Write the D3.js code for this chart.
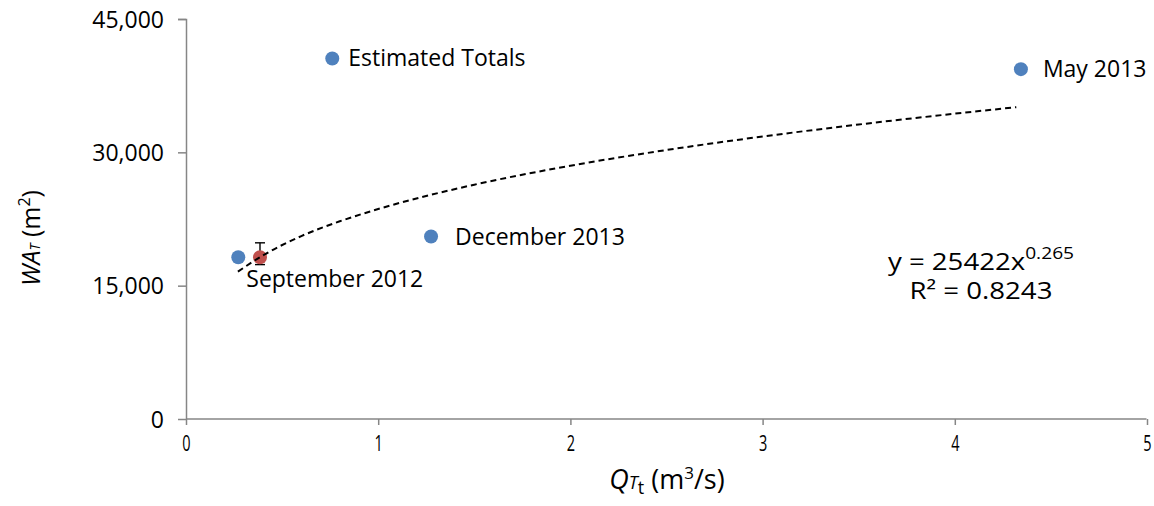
<!DOCTYPE html>
<html>
<head>
<meta charset="utf-8">
<script src="https://cdn.jsdelivr.net/npm/d3@7"></script>
<style>
  body { margin: 0; background: #fff; }
  svg text { font-family: "Open Sans", "Noto Sans", sans-serif; fill: #000; }
</style>
</head>
<body>
<script>
// sampled events (blue series)
var eventNames = ["Estimated Totals", "May 2013", "December 2013", "September 2012"];
var eventQ = [0.761, 4.344, 1.275, 0.272];        // m3/s
var eventWA = [40560, 39360, 20530, 18190];        // m2

// reference point with error bar (red series)
var refQ = [0.385];
var refWA = [18190];
var refLow = [17370];
var refHigh = [19820];

// power trendline
var trendQ = [0.27, 0.4, 0.6, 0.8, 1.0, 1.5, 2.0, 2.5, 3.0, 3.5, 4.0, 4.32];
var trendWA = [16580, 18400, 20580, 22240, 23620, 26360, 28490, 30260, 31780, 33130, 34350, 35080];

var xTicks = [0, 1, 2, 3, 4, 5];
var yTicks = [0, 15000, 30000, 45000];

var eqCoef = "25422";
var eqExp = "0.265";
var eqR2 = "0.8243";

// label placement (layout only)
var labelPlace = {
    "Estimated Totals": {dx: 16, dy: 8},
    "May 2013": {dx: 22, dy: 8},
    "December 2013": {dx: 24, dy: 8},
    "September 2012": {dx: 8, dy: 30}
};

var margin = {top: 19, right: 7, bottom: 87, left: 186};
var W = 1154, H = 506;
var width = W - margin.left - margin.right;
var height = H - margin.top - margin.bottom;

var svg = d3.select("body").append("svg")
    .attr("width", W)
    .attr("height", H);

var g = svg.append("g").attr("transform", "translate(" + margin.left + "," + margin.top + ")");

var x = d3.scaleLinear().domain([0, 5]).range([0, width]);
var y = d3.scaleLinear().domain([0, 45000]).range([height, 0]);

var axisColor = "#868686";

//y axis
var yAxis = g.append("g")
    .call(d3.axisLeft(y).tickValues(yTicks).tickSize(8).tickPadding(14).tickFormat(d3.format(",")));
yAxis.select(".domain").attr("stroke", axisColor).attr("stroke-width", 1.5)
    .attr("d", "M-8,0.5H0.5V" + height);
yAxis.selectAll(".tick line").attr("stroke", axisColor).attr("stroke-width", 1.5);
yAxis.selectAll(".tick text").style("font-size", "23px").attr("dy", "0.35em");

//x axis
var xAxis = g.append("g")
    .attr("transform", "translate(0," + height + ")")
    .call(d3.axisBottom(x).tickValues(xTicks).tickSize(6).tickPadding(7).tickFormat(d3.format("d")));
xAxis.select(".domain").attr("stroke", axisColor).attr("stroke-width", 1.5)
    .attr("d", "M0.5,0H" + (width - 0.5));
xAxis.selectAll(".tick line").attr("stroke", axisColor).attr("stroke-width", 1.5);
xAxis.selectAll(".tick text")
    .style("font-size", "22px")
    .attr("transform", "scale(0.66,1)")
    .attr("dy", "0.85em");

//error bar on the red point
var cap = 5;
refQ.forEach(function (q, i) {
    var cx = x(q);
    var eb = g.append("g").attr("stroke", "#000").attr("stroke-width", 1.4);
    eb.append("line").attr("x1", cx).attr("x2", cx).attr("y1", y(refHigh[i])).attr("y2", y(refLow[i]));
    eb.append("line").attr("x1", cx - cap).attr("x2", cx + cap).attr("y1", y(refHigh[i])).attr("y2", y(refHigh[i]));
    eb.append("line").attr("x1", cx - cap).attr("x2", cx + cap).attr("y1", y(refLow[i])).attr("y2", y(refLow[i]));
});

//markers
g.selectAll(".event")
    .data(eventQ)
    .enter()
    .append("circle")
    .attr("class", "event")
    .attr("cx", function (d) { return x(d); })
    .attr("cy", function (d, i) { return y(eventWA[i]); })
    .attr("r", 7)
    .style("fill", "#4F81BD");

g.selectAll(".ref")
    .data(refQ)
    .enter()
    .append("circle")
    .attr("class", "ref")
    .attr("cx", function (d) { return x(d); })
    .attr("cy", function (d, i) { return y(refWA[i]); })
    .attr("r", 7)
    .style("fill", "#C0504D");

//trendline
var trendPts = trendQ.map(function (q, i) { return [q, trendWA[i]]; });
g.append("path")
    .datum(trendPts)
    .attr("fill", "none")
    .attr("stroke", "#000")
    .attr("stroke-width", 2)
    .attr("stroke-dasharray", "6,4")
    .attr("d", d3.line().x(function (d) { return x(d[0]); }).y(function (d) { return y(d[1]); }).curve(d3.curveMonotoneX));

//data labels
g.selectAll(".lbl")
    .data(eventNames)
    .enter()
    .append("text")
    .attr("class", "lbl")
    .attr("x", function (d, i) { return x(eventQ[i]) + labelPlace[d].dx; })
    .attr("y", function (d, i) { return y(eventWA[i]) + labelPlace[d].dy; })
    .style("font-size", "23px")
    .text(function (d) { return d; });

//equation (wide, short glyphs like the original)
var eq = svg.append("text")
    .attr("transform", "translate(981,270) scale(1.2,1)")
    .attr("text-anchor", "middle")
    .style("font-size", "23px");
eq.append("tspan").text("y = " + eqCoef + "x");
eq.append("tspan").attr("dy", -11).style("font-size", "16px").text(eqExp);

var r2 = svg.append("text")
    .attr("transform", "translate(981,299) scale(1.2,1)")
    .attr("text-anchor", "middle")
    .style("font-size", "23px");
r2.append("tspan").text("R² = " + eqR2);

//axis titles
var yt = svg.append("text")
    .attr("transform", "translate(40,238) rotate(-90)")
    .attr("text-anchor", "middle")
    .style("font-size", "25px");
yt.append("tspan").style("font-style", "italic").text("WA");
yt.append("tspan").style("font-style", "italic").style("font-size", "14px").text("T");
yt.append("tspan").text(" (m");
yt.append("tspan").attr("dy", -10).style("font-size", "16px").text("2");
yt.append("tspan").attr("dy", 10).text(")");

var xt = svg.append("text")
    .attr("x", 667)
    .attr("y", 489)
    .attr("text-anchor", "middle")
    .style("font-size", "27px");
xt.append("tspan").style("font-style", "italic").text("Q");
xt.append("tspan").style("font-style", "italic").style("font-size", "18px").text("T");
xt.append("tspan").attr("dy", 5).style("font-size", "18px").text("t");
xt.append("tspan").attr("dy", -5).text(" (m");
xt.append("tspan").attr("dy", -10).style("font-size", "17px").text("3");
xt.append("tspan").attr("dy", 10).text("/s)");
</script>
</body>
</html>
